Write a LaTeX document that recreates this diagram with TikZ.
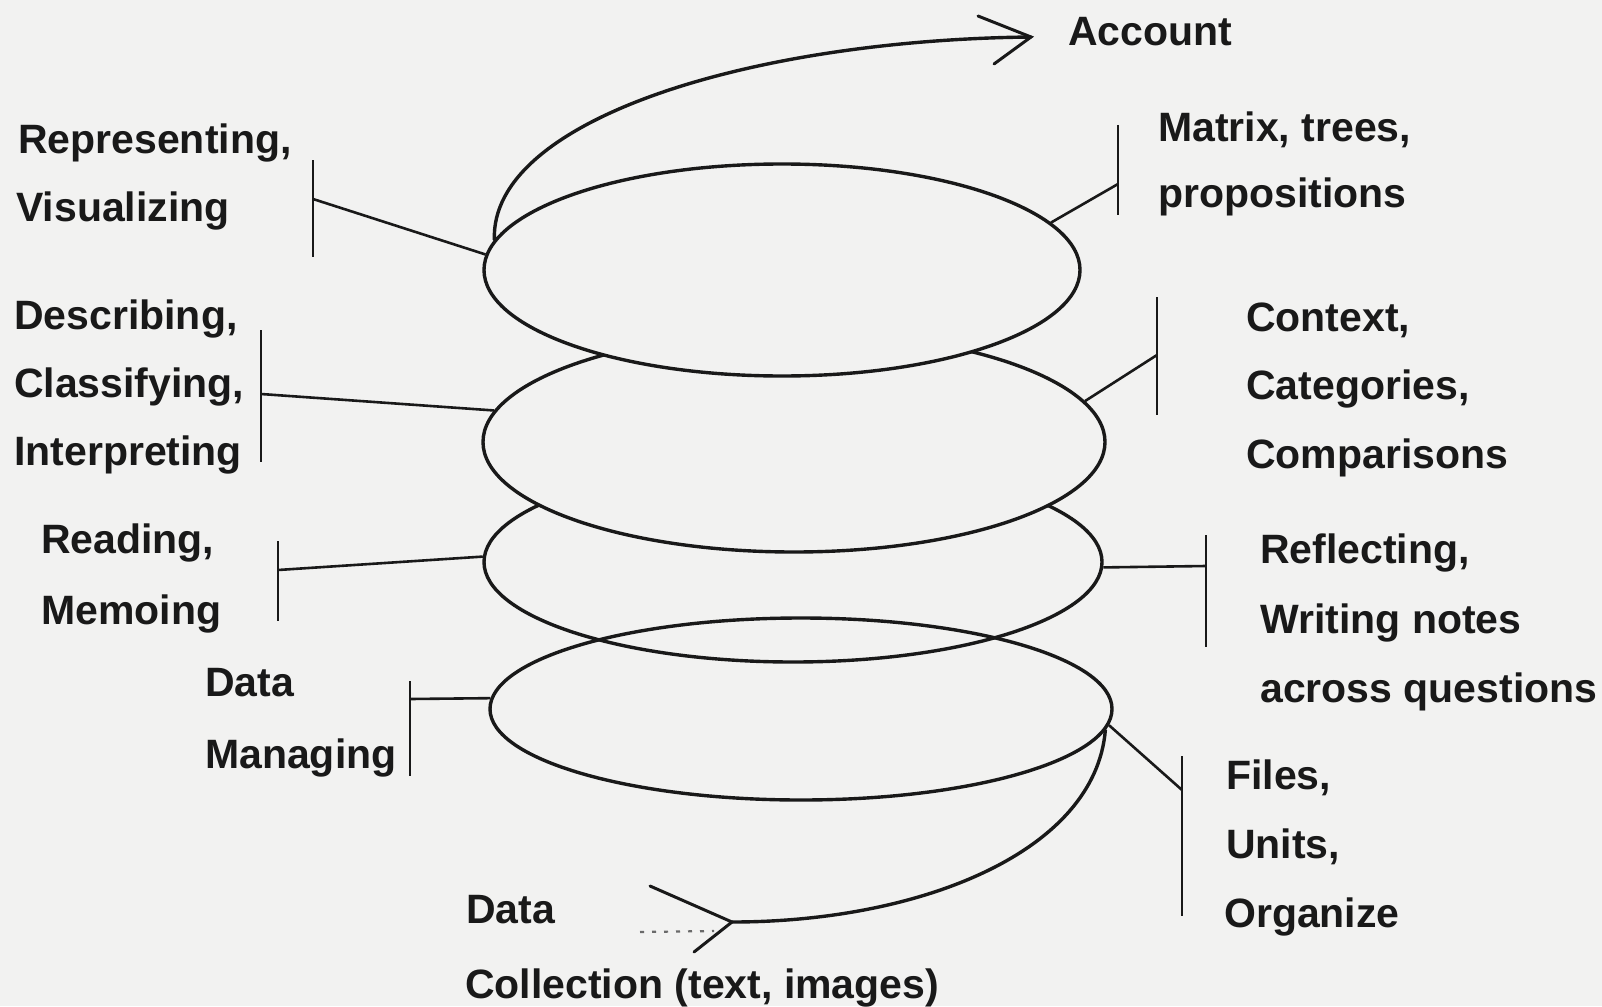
\documentclass[tikz,border=0pt]{standalone}
\usepackage{fontspec}
\setmainfont{Liberation Sans}
\usetikzlibrary{shapes.geometric}
\definecolor{paper}{RGB}{242,242,241}
\definecolor{ink}{RGB}{25,25,25}
\begin{document}
\begin{tikzpicture}[x=1pt,y=-1pt,
  coil/.style={draw=ink,line width=3.4pt,shape=ellipse,inner sep=0pt},
  lbl/.style={anchor=base west,inner sep=0pt,text=ink,
    font=\fontsize{41}{49}\selectfont\bfseries},
  tie/.style={draw=ink,line width=2.6pt},
  spiral/.style={draw=ink,line width=3.4pt,line cap=round},
  tip/.style={draw=ink,line width=3pt,line cap=round,line join=miter}]
\fill[paper] (0,0) rectangle (1602,1006);
\useasboundingbox (0,0) rectangle (1602,1006);

% coils of the spiral, drawn bottom to top; filled coils hide the one below
\node[coil,minimum width=622pt,minimum height=182pt] (e4) at (801,709) {};
\node[coil,minimum width=618pt,minimum height=200pt] (e3) at (793,562) {};
\node[coil,fill=paper,minimum width=622pt,minimum height=220pt] (e2) at (794,442) {};
\node[coil,fill=paper,minimum width=596pt,minimum height=212pt] (e1) at (782,270) {};

% upper exit of the spiral
\coordinate (acctTip) at (1031,37);
\coordinate (acctArmA) at (978,16);
\coordinate (acctArmB) at (994,64);
\draw[spiral] (e1.174) .. controls (490,120) and (750,40) .. (acctTip);
\draw[tip] (acctArmA) -- (acctTip) -- (acctArmB);

% lower entry of the spiral
\coordinate (dataTip) at (732,922);
\coordinate (dataArmA) at (650,886);
\coordinate (dataArmB) at (694,952);
\coordinate (dotsL) at (640,932);
\coordinate (dotsR) at (714,931);
\draw[spiral] (e4.-4) .. controls (1095,852) and (920,922) .. (dataTip);
\draw[tip] (dataArmA) -- (dataTip) -- (dataArmB);
\draw[ink!65,line width=2.2pt,dash pattern=on 4pt off 8pt] (dotsL) -- (dotsR);

% left brackets
\coordinate (bRepT) at (313,160); \coordinate (bRepB) at (313,257); \coordinate (bRepM) at (313,199);
\draw[tie] (bRepT) -- (bRepB); \draw[tie] (bRepM) -- (e1.177);
\coordinate (bDesT) at (261,330); \coordinate (bDesB) at (261,462); \coordinate (bDesM) at (261,394);
\draw[tie] (bDesT) -- (bDesB); \draw[tie] (bDesM) -- (e2.174);
\coordinate (bReaT) at (278,541); \coordinate (bReaB) at (278,621); \coordinate (bReaM) at (278,570);
\draw[tie] (bReaT) -- (bReaB); \draw[tie] (bReaM) -- (e3.179);
\coordinate (bManT) at (410,681); \coordinate (bManB) at (410,776); \coordinate (bManM) at (410,699);
\draw[tie] (bManT) -- (bManB); \draw[tie] (bManM) -- (e4.178);

% right brackets
\coordinate (bMatT) at (1118,125); \coordinate (bMatB) at (1118,215); \coordinate (bMatM) at (1118,184);
\draw[tie] (bMatT) -- (bMatB); \draw[tie] (bMatM) -- (e1.10);
\coordinate (bConT) at (1157,297); \coordinate (bConB) at (1157,415); \coordinate (bConM) at (1157,355);
\draw[tie] (bConT) -- (bConB); \draw[tie] (bConM) -- (e2.8);
\coordinate (bRefT) at (1206,535); \coordinate (bRefB) at (1206,647); \coordinate (bRefM) at (1206,566);
\draw[tie] (bRefT) -- (bRefB); \draw[tie] (bRefM) -- (e3.-1);
\coordinate (bFilT) at (1182,756); \coordinate (bFilB) at (1182,916); \coordinate (bFilM) at (1182,790);
\draw[tie] (bFilT) -- (bFilB); \draw[tie] (bFilM) -- (e4.-3);

% labels
\node[lbl] (tAccount) at (1068,46) {Account};
\node[lbl] (tRep1) at (18,153) {Representing,};
\node[lbl] (tRep2) at (16,221) {Visualizing};
\node[lbl] (tDes1) at (14,329) {Describing,};
\node[lbl] (tDes2) at (14,397) {Classifying,};
\node[lbl] (tDes3) at (14,465) {Interpreting};
\node[lbl] (tRea1) at (41,553) {Reading,};
\node[lbl] (tRea2) at (41,624) {Memoing};
\node[lbl] (tMan1) at (205,696) {Data};
\node[lbl] (tMan2) at (205,768) {Managing};
\node[lbl] (tCol1) at (466,923) {Data};
\node[lbl] (tCol2) at (465,998) {Collection (text, images)};
\node[lbl] (tMat1) at (1158,141) {Matrix, trees,};
\node[lbl] (tMat2) at (1158,207) {propositions};
\node[lbl] (tCon1) at (1246,331) {Context,};
\node[lbl] (tCon2) at (1246,399) {Categories,};
\node[lbl] (tCon3) at (1246,468) {Comparisons};
\node[lbl] (tRef1) at (1260,563) {Reflecting,};
\node[lbl] (tRef2) at (1260,633) {Writing notes};
\node[lbl] (tRef3) at (1260,702) {across questions};
\node[lbl] (tFil1) at (1226,789) {Files,};
\node[lbl] (tFil2) at (1226,858) {Units,};
\node[lbl] (tFil3) at (1224,927) {Organize};
\end{tikzpicture}
\end{document}
